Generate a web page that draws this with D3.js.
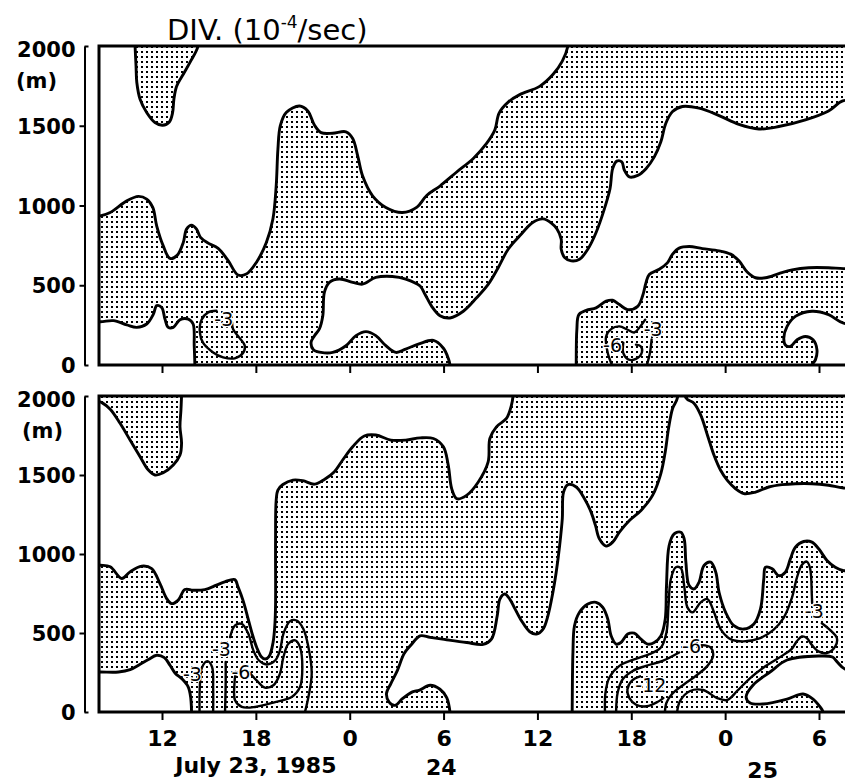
<!DOCTYPE html>
<html><head><meta charset="utf-8">
<script src="https://cdn.jsdelivr.net/npm/d3@7"></script>
<style>html,body{margin:0;padding:0;background:#fff;}svg{display:block;}</style>
</head><body>
<script>
// ---------- data (time in hours from July 23 00:00, height in m) ----------
const xTickVals = [12, 18, 24, 30, 36, 42, 48, 54];
const xTickLabels = ["12", "18", "0", "6", "12", "18", "0", "6"];
const yTickVals = [0, 500, 1000, 1500, 2000];
const yTickLabels = ["0", "500", "1000", "1500", "2000"];
const dayLabels = ["July 23, 1985", "24", "25"];
const dayLabelTimes = [18.0, 29.85, 50.4];
const titleMain = "DIV. (10";
const titleExp = "-4";
const titleTail = "/sec)";

// upper panel: stippled (negative) regions bounded by the 0 contour
const topRegionA = [[10.25,2150],[10.28,2000],[10.34,1875],[10.39,1771],[10.60,1666],[11.02,1583],[11.55,1520],[12.04,1503],[12.47,1524],[12.68,1583],[12.76,1666],[12.93,1746],[13.36,1823],[13.78,1896],[14.31,2000],[14.4,2150]];
const topRegionB = [[6.5,935],[8.05,935],[8.69,956],[9.75,1029],[10.49,1057],[11.02,1040],[11.41,988],[11.66,873],[12.08,747],[12.51,668],[12.98,689],[13.36,768],[13.57,852],[13.89,877],[14.21,852],[14.46,800],[14.95,764],[15.59,731],[16.23,654],[16.86,564],[17.39,570],[18.03,643],[18.67,768],[19.09,915],[19.30,1123],[19.41,1353],[19.56,1499],[19.94,1583],[20.79,1624],[21.32,1593],[21.75,1503],[22.17,1457],[22.91,1453],[23.76,1462],[24.19,1420],[24.51,1311],[24.82,1186],[25.46,1061],[26.31,988],[27.37,956],[28.3,990],[28.92,1063],[29.77,1122],[30.84,1210],[31.90,1295],[32.75,1389],[33.28,1474],[33.55,1579],[34.13,1648],[34.87,1695],[36.14,1747],[36.99,1821],[37.59,1905],[37.95,2000],[38.0,2150],[58,2150],[58,1657],[55.57,1657],[54.61,1593],[53.13,1537],[51.43,1495],[50.16,1480],[48.88,1509],[47.61,1564],[46.33,1610],[45.27,1621],[44.64,1589],[44.21,1516],[43.89,1400],[43.47,1305],[42.94,1231],[42.41,1189],[41.88,1179],[41.56,1221],[41.39,1274],[41.07,1278],[40.81,1231],[40.64,1105],[40.28,979],[39.75,831],[39.22,726],[38.69,663],[38.16,653],[37.74,674],[37.52,726],[37.52,789],[37.25,853],[36.89,890],[36.36,916],[35.72,895],[34.87,810],[34.13,726],[33.49,610],[32.85,505],[32.11,421],[31.26,337],[30.41,295],[29.77,309],[29.24,368],[28.82,442],[28.5,495],[27.58,539],[26.73,555],[25.67,549],[24.82,507],[24.19,518],[23.34,539],[22.70,518],[22.38,455],[22.28,309],[22.06,226],[21.75,184],[21.53,142],[21.68,96],[22.17,79],[22.91,79],[23.76,121],[24.40,184],[25.04,209],[25.67,184],[26.31,121],[26.95,79],[27.58,100],[28.43,132],[29.35,154],[29.99,105],[30.30,42],[30.41,0],[30.45,-150],[14.1,-150],[14.10,0],[14.06,121],[13.99,257],[13.68,288],[13.15,284],[12.72,236],[12.40,236],[12.19,288],[11.98,361],[11.66,372],[11.45,319],[11.02,257],[10.39,236],[9.75,251],[8.90,278],[8.05,271],[6.5,271]];
const topRegionC = [[38.48,-150],[38.48,0],[38.52,221],[38.65,316],[39.12,343],[39.75,358],[40.39,400],[40.81,406],[41.24,379],[41.77,347],[42.41,368],[42.72,432],[42.94,516],[43.15,568],[43.79,600],[44.32,642],[44.64,695],[45.06,733],[45.70,743],[46.55,730],[47.61,716],[48.35,695],[48.88,653],[49.41,583],[49.94,547],[50.58,547],[51.43,573],[52.28,596],[53.34,610],[54.61,610],[55.57,604],[58,600],[58,263],[55.57,263],[54.61,316],[53.55,337],[52.49,305],[51.96,242],[51.75,168],[51.85,126],[52.17,116],[52.60,158],[53.13,179],[53.62,158],[53.87,95],[53.77,32],[53.55,0],[53.5,-150]];
// upper panel: labelled contours
const topM3a = [[15.48,340],[14.95,330],[14.53,284],[14.42,205],[14.63,138],[15.27,79],[15.91,48],[16.65,42],[17.18,75],[17.29,121],[16.93,173],[16.54,226],[16.48,267]];
const topM3b = [[40.77,0],[40.50,74],[40.39,179],[40.71,225],[41.24,242],[41.77,221],[42.19,204],[42.55,238],[42.89,284]];
const topM3c = [[43.3,160],[43.2,80],[43.0,0]];
const topM6 = [[41.49,140],[41.49,74],[41.8,35],[42.3,38],[42.68,80],[42.6,118],[42.3,128]];
const topLabels = [[15.95,290,"-3"],[43.4,225,"-3"],[40.8,125,"-6"]];

// lower panel: stippled regions
const botRegionD = [[6.5,2150],[13.3,2150],[13.25,2000],[13.21,1911],[13.15,1806],[13.25,1700],[13.15,1626],[12.72,1563],[12.08,1514],[11.55,1500],[11.13,1531],[10.60,1616],[9.96,1721],[9.32,1827],[8.69,1916],[8.16,1958],[7.99,1964],[6.5,1964]];
const botRegionE = [[6.5,929],[8.05,929],[8.69,919],[9.43,845],[9.96,887],[10.70,923],[11.34,908],[11.87,813],[12.30,718],[12.62,686],[13.04,708],[13.46,775],[13.99,771],[14.74,775],[15.48,803],[16.01,824],[16.65,838],[16.86,792],[17.2,700],[17.45,610],[17.75,500],[18.05,410],[18.35,350],[18.6,335],[18.85,352],[19.1,440],[19.22,560],[19.26,680],[19.26,1088],[19.30,1341],[19.41,1405],[19.73,1440],[20.37,1468],[21.00,1464],[21.75,1442],[22.38,1472],[23.02,1521],[23.55,1595],[24.19,1679],[24.93,1747],[25.67,1753],[26.63,1721],[27.58,1721],[28.5,1735],[29.35,1731],[29.99,1678],[30.30,1562],[30.52,1413],[30.84,1350],[31.47,1371],[32.22,1456],[32.85,1583],[32.96,1731],[33.38,1805],[34.02,1858],[34.34,1942],[34.44,2000],[34.5,2150],[44.9,2150],[44.95,1989],[44.64,1921],[44.38,1794],[44.17,1646],[43.89,1509],[43.36,1371],[42.62,1276],[41.88,1212],[41.24,1138],[40.81,1075],[40.39,1050],[39.96,1096],[39.71,1181],[39.43,1265],[39.01,1350],[38.48,1424],[37.95,1439],[37.67,1392],[37.59,1223],[37.42,1054],[37.20,884],[36.99,758],[36.67,609],[36.36,525],[35.93,493],[35.51,508],[34.98,578],[34.55,656],[34.23,715],[33.91,747],[33.60,715],[33.43,609],[33.06,461],[32.53,428],[31.47,440],[30.20,457],[29.14,472],[28.5,482],[27.90,422],[27.48,370],[27.05,264],[26.63,180],[26.35,116],[26.52,63],[26.90,42],[27.37,84],[28.01,127],[28.43,137],[29.14,169],[29.77,144],[30.20,91],[30.41,0],[30.45,-150],[13.9,-150],[13.89,0],[13.83,95],[13.68,158],[13.32,205],[12.83,247],[12.51,296],[12.15,344],[11.66,359],[11.13,332],[10.60,302],[9.96,268],[9.22,253],[8.05,253],[6.5,253]];
const botRegionF = [[38.2,-150],[38.22,0],[38.27,377],[38.37,546],[38.69,631],[39.22,683],[39.75,694],[40.18,662],[40.50,588],[40.71,482],[41.03,430],[41.34,440],[41.77,493],[42.19,499],[42.62,461],[43.04,430],[43.47,440],[43.89,482],[44.17,588],[44.25,800],[44.42,1054],[44.74,1128],[45.17,1138],[45.38,1096],[45.49,948],[45.70,800],[46.02,779],[46.33,821],[46.65,927],[47.08,948],[47.40,885],[47.61,758],[48.03,631],[48.56,546],[49.20,525],[49.84,557],[50.26,652],[50.47,842],[50.58,916],[51.01,906],[51.43,863],[51.85,885],[52.17,969],[52.49,1043],[53.02,1079],[53.55,1075],[53.98,1033],[54.51,959],[55.04,916],[55.57,895],[58,880],[58,272],[55.67,272],[55.16,317],[54.86,348],[53.98,354],[51.96,329],[50.87,253],[49.79,171],[49.34,95],[49.60,57],[50.43,51],[51.96,82],[52.98,114],[53.62,82],[54.07,32],[54.26,0],[54.3,-150]];
const botRegionG = [[45.3,2150],[45.49,1989],[46.02,1953],[46.44,1879],[46.87,1752],[47.29,1625],[47.71,1530],[48.14,1466],[48.67,1413],[49.20,1382],[49.94,1392],[50.79,1424],[51.64,1439],[52.49,1445],[53.55,1445],[54.61,1435],[55.57,1418],[58,1410],[58,2150]];
// lower panel: labelled contours
const botM3a = [[14.4,0],[14.42,165],[14.55,280],[14.9,322],[15.2,285],[15.27,150],[15.27,0]];
const botM3b1 = [[16.03,0],[16.07,179],[16.07,316]];
const botM3b2 = [[16.35,474],[16.67,548],[17.10,558],[17.52,495],[17.84,390],[18.20,326],[18.69,301],[19.23,326],[19.54,390],[19.76,495],[20.18,575],[20.61,579],[21.03,527],[21.36,411],[21.57,242],[21.36,95],[21.14,0]];
const botM6a = [[17.56,253],[18.05,200],[18.58,154],[19.12,169],[19.54,242],[19.76,347],[20.08,432],[20.52,453],[20.82,411],[20.97,284],[20.82,158],[20.29,95],[19.23,63],[17.95,32],[17.10,32],[16.67,74],[16.63,179],[16.71,253]];
const botM3c1 = [[40.32,0],[40.35,123],[40.60,218],[41.24,292],[42.09,330],[43.15,366],[43.89,408],[44.25,504],[44.38,673],[44.53,842],[44.85,916],[45.17,910],[45.38,800],[45.59,662],[45.91,631],[46.44,694],[46.87,715],[47.29,631],[47.71,525],[48.35,461],[49.17,447],[50.24,468],[51.09,520],[51.73,594],[52.26,720],[52.58,847],[52.9,931],[53.22,952],[53.43,910],[53.54,741],[53.56,690]];
const botM3c2 = [[54.18,562],[54.70,520],[55.14,468],[55.04,415],[54.50,373],[53.96,384],[53.54,425],[53.22,468],[52.90,478],[52.58,447],[52.26,400],[51.71,360],[50.69,297],[49.60,215],[48.77,133],[48.13,76],[47.49,88],[46.59,139],[45.76,133],[45.12,70],[44.93,0]];
const botM6b = [[41.03,0],[41.13,123],[41.45,207],[42.09,260],[42.94,292],[44.0,324],[45.06,377]];
const botM6b2 = [[46.50,423],[47.08,408],[47.23,355],[46.87,292],[46.12,228],[45.38,176],[44.64,118],[44.25,59],[44.15,0]];
const botM12 = [[42.56,226],[42.03,198],[41.75,141],[41.88,88],[42.31,46],[42.99,36],[43.67,63],[44.05,88]];
const botLabels = [[13.95,240,"-3"],[15.8,395,"-3"],[17.05,255,"-6"],[53.7,640,"-3"],[45.85,415,"-6"],[43.25,170,"-12"]];

// ---------- drawing ----------
const W = 845, H = 783;
const svg = d3.select("body").append("svg").attr("width", W).attr("height", H)
  .style("font-family", "'DejaVu Sans', sans-serif");
const defs = svg.append("defs");
const pat = defs.append("pattern").attr("id", "dots").attr("patternUnits", "userSpaceOnUse")
  .attr("width", 5).attr("height", 5);
pat.append("rect").attr("x", 1).attr("y", 1).attr("width", 2).attr("height", 2).attr("fill", "#000");

const x = d3.scaleLinear().domain([12, 54]).range([162, 819]);
const xLeft = 99, xRight = 845;

const panels = [
  {id: "p1", top: 46, bot: 365, regions: [topRegionA, topRegionB, topRegionC],
   lines: [topM3a, topM3b, topM3c, topM6], labels: topLabels, xlabels: false, mX: 16},
  {id: "p2", top: 396, bot: 712, regions: [botRegionD, botRegionE, botRegionF, botRegionG],
   lines: [botM3a, botM3b1, botM3b2, botM6a, botM3c1, botM3c2, botM6b, botM6b2, botM12], labels: botLabels, xlabels: true, mX: 22}
];

panels.forEach(p => {
  const y = d3.scaleLinear().domain([0, 2000]).range([p.bot, p.top]);
  defs.append("clipPath").attr("id", "clip-" + p.id).append("rect")
    .attr("x", xLeft).attr("y", p.top).attr("width", xRight - xLeft + 5).attr("height", p.bot - p.top);
  const line = d3.line().x(d => x(d[0])).y(d => y(d[1])).curve(d3.curveCatmullRom.alpha(0.5));
  const g = svg.append("g").attr("clip-path", "url(#clip-" + p.id + ")");
  g.selectAll("path.region").data(p.regions).join("path").attr("class", "region")
    .attr("d", d => line(d) + "Z")
    .attr("fill", "url(#dots)").attr("stroke", "#000").attr("stroke-width", 2.9)
    .attr("stroke-linejoin", "round");
  g.selectAll("path.cline").data(p.lines).join("path").attr("class", "cline")
    .attr("d", d => line(d)).attr("fill", "none").attr("stroke", "#000")
    .attr("stroke-width", 2.4).attr("stroke-linecap", "round").attr("stroke-linejoin", "round");
  g.selectAll("text.clab").data(p.labels).join("text").attr("class", "clab")
    .attr("x", d => x(d[0])).attr("y", d => y(d[1])).attr("dy", "0.36em")
    .attr("text-anchor", "middle").attr("font-size", 19).attr("fill", "#000")
    .attr("stroke", "#fff").attr("stroke-width", 2.5).attr("paint-order", "stroke")
    .attr("stroke-linejoin", "round")
    .text(d => d[2]);

  // frame
  const fr = svg.append("g").attr("stroke", "#000").attr("stroke-width", 3).attr("fill", "none");
  fr.append("path").attr("d", `M${xRight + 5},${p.top}H${xLeft}V${p.bot}H${xRight + 5}`)
    .attr("stroke-linejoin", "miter");

  // x axis ticks
  const xa = svg.append("g").attr("transform", `translate(0,${p.bot})`)
    .call(d3.axisBottom(x).tickValues(xTickVals).tickSize(8).tickSizeOuter(0)
      .tickFormat((d, i) => p.xlabels ? xTickLabels[i] : ""));
  xa.select(".domain").remove();
  xa.selectAll(".tick line").attr("stroke", "#000").attr("stroke-width", 2);
  xa.selectAll(".tick text").attr("font-family", "'DejaVu Sans', sans-serif")
    .attr("font-weight", "bold").attr("font-size", 22).attr("fill", "#000")
    .attr("dy", null).attr("y", 34);

  // y axis (separate line to the left of the frame)
  const ya = svg.append("g").attr("transform", "translate(84.5,0)")
    .call(d3.axisLeft(y).tickValues(yTickVals).tickSize(5).tickSizeOuter(0)
      .tickPadding(4).tickFormat((d, i) => yTickLabels[i]));
  ya.select(".domain").attr("stroke", "#000").attr("stroke-width", 2);
  ya.selectAll(".tick line").attr("stroke", "#000").attr("stroke-width", 2)
    .attr("x2", d => (d === 0 || d === 2000) ? 4 : -5);
  ya.selectAll(".tick text").attr("font-family", "'DejaVu Sans', sans-serif")
    .attr("font-weight", "bold").attr("font-size", 21).attr("fill", "#000")
    .attr("x", -9).attr("dy", d => d === 2000 ? "0.5em" : "0.36em");
  svg.append("text").attr("x", p.mX).attr("y", y(2000) + 42)
    .attr("font-weight", "bold").attr("font-size", 21).text("(m)");
});

// date labels under lower panel
const dayBase = [773, 775, 778];
svg.selectAll("text.day").data(dayLabels).join("text").attr("class", "day")
  .attr("x", (d, i) => x(dayLabelTimes[i])).attr("y", (d, i) => dayBase[i])
  .attr("text-anchor", "middle").attr("font-weight", "bold").attr("font-size", 22)
  .text(d => d);

// title
const t = svg.append("text").attr("x", 167).attr("y", 40).attr("font-size", 29);
t.append("tspan").text(titleMain);
t.append("tspan").attr("font-size", 17).attr("dy", -12).text(titleExp);
t.append("tspan").attr("dy", 12).text(titleTail);
</script>
</body></html>
